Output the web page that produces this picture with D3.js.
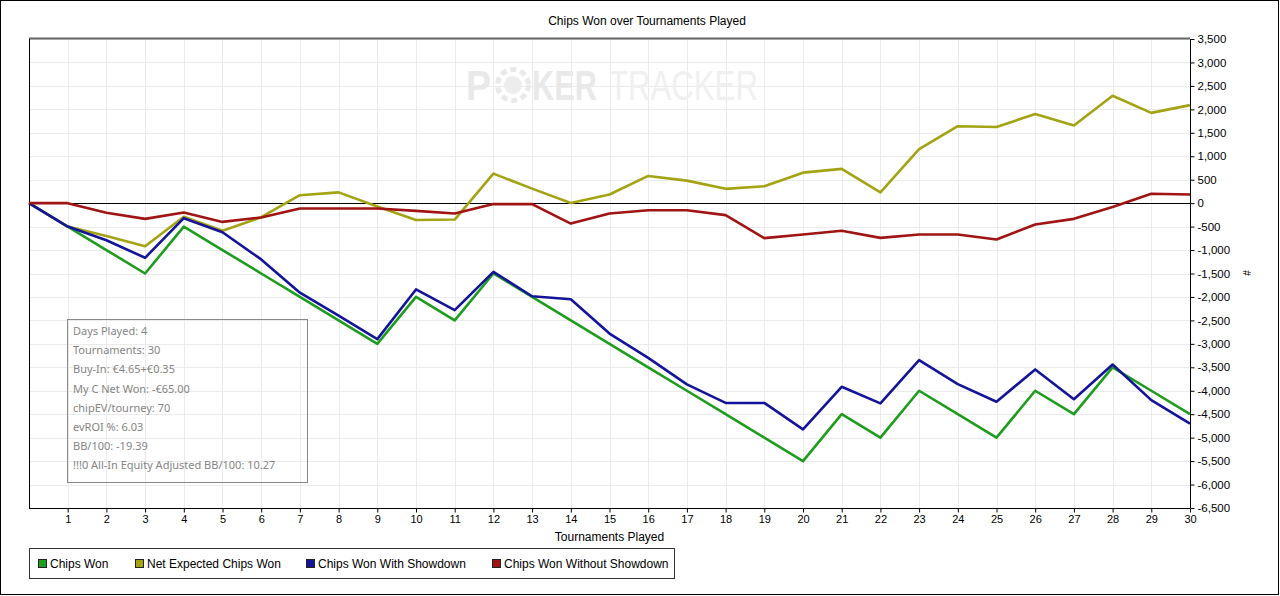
<!DOCTYPE html>
<html>
<head>
<meta charset="utf-8">
<script src="https://cdn.jsdelivr.net/npm/d3@7"></script>
<style>
  body { margin: 0; background: #fff; }
  svg { display: block; }
  text { font-family: "Liberation Sans", Arial, sans-serif; }
</style>
</head>
<body>
<svg id="chart" width="1280" height="596"></svg>
<script>
// tournament index on the x axis
const tournaments = [0,1,2,3,4,5,6,7,8,9,10,11,12,13,14,15,16,17,18,19,20,21,22,23,24,25,26,27,28,29,30];

// series values
const chipsWon = [0,-500,-1000,-1500,-500,-1000,-1500,-2000,-2500,-3000,-2000,-2500,-1500,-2000,-2500,-3000,-3500,-4000,-4500,-5000,-5500,-4500,-5000,-4000,-4500,-5000,-4000,-4500,-3500,-4000,-4500];
const netExpected = [0,-500,-700,-920,-290,-590,-300,170,230,-70,-360,-350,630,310,5,185,580,480,305,360,650,730,230,1150,1640,1625,1900,1655,2290,1925,2090];
const withShowdown = [0,-500,-790,-1165,-320,-620,-1200,-1910,-2400,-2900,-1840,-2280,-1465,-1985,-2050,-2780,-3300,-3865,-4260,-4260,-4825,-3915,-4270,-3345,-3860,-4235,-3545,-4180,-3440,-4200,-4700];
const withoutShowdown = [0,0,-205,-335,-200,-400,-305,-115,-115,-115,-165,-220,-20,-20,-435,-220,-150,-150,-255,-745,-670,-590,-740,-670,-670,-775,-455,-335,-80,200,185];

const seriesNames = ["Chips Won", "Net Expected Chips Won", "Chips Won With Showdown", "Chips Won Without Showdown"];
const yTicks = [3500,3000,2500,2000,1500,1000,500,0,-500,-1000,-1500,-2000,-2500,-3000,-3500,-4000,-4500,-5000,-5500,-6000,-6500];

const infoLines = [
  "Days Played: 4",
  "Tournaments: 30",
  "Buy-In: €4.65+€0.35",
  "My C Net Won: -€65.00",
  "chipEV/tourney: 70",
  "evROI %: 6.03",
  "BB/100: -19.39",
  "!!!0 All-In Equity Adjusted BB/100: 10.27"
];

const colors = ["#1e9c1e", "#a3a314", "#14149a", "#a01414"];

const svg = d3.select("#chart");
const plotLeft = 29, plotRight = 1190, plotTop = 39, plotBottom = 508;

const x = d3.scaleLinear().domain([0, 30]).range([plotLeft, plotRight]);
const y = d3.scaleLinear().domain([-6500, 3500]).range([plotBottom, plotTop]);

// outer frame
svg.append("rect")
  .attr("x", 0.5).attr("y", 0.5)
  .attr("width", 1278).attr("height", 594)
  .attr("fill", "#fff").attr("stroke", "#000");

// title
svg.append("text")
  .attr("x", 647).attr("y", 25)
  .attr("text-anchor", "middle")
  .style("font-size", "12px")
  .attr("fill", "#000")
  .text("Chips Won over Tournaments Played");

// grid
const grid = svg.append("g");
grid.selectAll(".vg").data(tournaments.slice(1))
  .enter().append("line")
  .attr("x1", d => Math.round(x(d)) + 0.5).attr("x2", d => Math.round(x(d)) + 0.5)
  .attr("y1", plotTop).attr("y2", plotBottom)
  .attr("stroke", "#ebebeb");
grid.selectAll(".hg").data(yTicks)
  .enter().append("line")
  .attr("x1", plotLeft).attr("x2", plotRight)
  .attr("y1", d => Math.round(y(d)) + 0.5).attr("y2", d => Math.round(y(d)) + 0.5)
  .attr("stroke", "#ebebeb");

// watermark, squeezed to the logo's width
function squeezed(g, str, x0, width, bold, fill) {
  const t = g.append("text")
    .style("font-size", "42px")
    .style("font-weight", bold ? "bold" : "normal")
    .attr("fill", fill)
    .text(str);
  const w = t.node().getComputedTextLength();
  t.attr("transform", `translate(${x0},100) scale(${width / w},1)`);
}
const wm = svg.append("g");
squeezed(wm, "P", 466, 25, true, "#e9e9e9");
wm.append("circle")
  .attr("cx", 513).attr("cy", 85).attr("r", 15.5)
  .attr("fill", "none").attr("stroke", "#e9e9e9").attr("stroke-width", 5)
  .attr("stroke-dasharray", "6 4");
wm.append("circle")
  .attr("cx", 513).attr("cy", 85).attr("r", 9)
  .attr("fill", "#ededed");
squeezed(wm, "KER", 532, 65, true, "#e9e9e9");
squeezed(wm, "TRACKER", 609, 149, false, "#f0f0f0");

// plot frame
svg.append("line")
  .attr("x1", plotLeft).attr("x2", plotRight).attr("y1", 38.5).attr("y2", 38.5)
  .attr("stroke", "#666").attr("stroke-width", 2);
svg.append("line")
  .attr("x1", plotLeft + 0.5).attr("x2", plotLeft + 0.5).attr("y1", plotTop).attr("y2", plotBottom)
  .attr("stroke", "#000");

// zero line
svg.append("line")
  .attr("x1", plotLeft).attr("x2", plotRight)
  .attr("y1", Math.round(y(0)) + 0.5).attr("y2", Math.round(y(0)) + 0.5)
  .attr("stroke", "#000");

// x axis
const xAxis = d3.axisBottom(x)
  .tickValues(tournaments.slice(1))
  .tickSize(4)
  .tickFormat(d3.format("d"));
const gx = svg.append("g")
  .attr("transform", `translate(0,${plotBottom + 0.5})`)
  .call(xAxis);
gx.select(".domain").attr("stroke", "#000").attr("d", `M${plotLeft},0H${plotRight}`);
gx.selectAll(".tick line").attr("stroke", "#000");
gx.selectAll(".tick text")
  .attr("y", 7).attr("fill", "#000")
  .style("font-size", "11px").style("font-family", "'Liberation Sans', Arial, sans-serif");

svg.append("text")
  .attr("x", (plotLeft + plotRight) / 2).attr("y", 541)
  .attr("text-anchor", "middle")
  .style("font-size", "12px")
  .text("Tournaments Played");

// y axis on the right
const yAxis = d3.axisRight(y)
  .tickValues(yTicks)
  .tickSize(4)
  .tickFormat(d3.format(","));
const gy = svg.append("g")
  .attr("transform", `translate(${plotRight + 0.5},0)`)
  .call(yAxis);
gy.select(".domain").attr("stroke", "#000").attr("d", `M0,${plotTop}V${plotBottom}`);
gy.selectAll(".tick line").attr("stroke", "#000");
gy.selectAll(".tick text")
  .attr("x", 7).attr("fill", "#000")
  .style("font-size", "11.5px").style("font-family", "'Liberation Sans', Arial, sans-serif")
  .text(d => d3.format(",")(d).replace("−", "-"));

svg.append("text")
  .attr("transform", "translate(1243,273) rotate(90)")
  .attr("text-anchor", "middle")
  .style("font-size", "10px")
  .text("#");

// series lines
const line = d3.line()
  .x((d, i) => x(tournaments[i]))
  .y(d => y(d));

const allSeries = [chipsWon, netExpected, withShowdown, withoutShowdown];
svg.append("g").selectAll("path")
  .data(allSeries)
  .enter().append("path")
  .attr("d", d => line(d))
  .attr("fill", "none")
  .attr("stroke", (d, i) => colors[i])
  .attr("stroke-width", 2.6)
  .attr("stroke-linejoin", "round");

// info box
svg.append("rect")
  .attr("x", 67.5).attr("y", 319.5)
  .attr("width", 240).attr("height", 163)
  .attr("fill", "none").attr("stroke", "#888");
svg.append("g").selectAll("text")
  .data(infoLines)
  .enter().append("text")
  .attr("x", 73)
  .attr("y", (d, i) => 335 + i * 19.2)
  .style("font-family", "'Noto Sans', 'Open Sans', sans-serif")
  .style("font-size", "11px")
  .attr("fill", "#858585")
  .text(d => d);

// legend
svg.append("rect")
  .attr("x", 29.5).attr("y", 548.5)
  .attr("width", 645).attr("height", 30)
  .attr("fill", "#fff").attr("stroke", "#333");
const legendX = [38, 135, 306, 492];
const lg = svg.append("g").selectAll("g")
  .data(seriesNames)
  .enter().append("g")
  .attr("transform", (d, i) => `translate(${legendX[i]},559)`);
lg.append("rect")
  .attr("x", 0.5).attr("y", 0.5)
  .attr("width", 8).attr("height", 8)
  .attr("fill", (d, i) => colors[i])
  .attr("stroke", "#222");
lg.append("text")
  .attr("x", 12).attr("y", 8.5)
  .style("font-size", "12px")
  .attr("fill", "#000")
  .text(d => d);
</script>
</body>
</html>
